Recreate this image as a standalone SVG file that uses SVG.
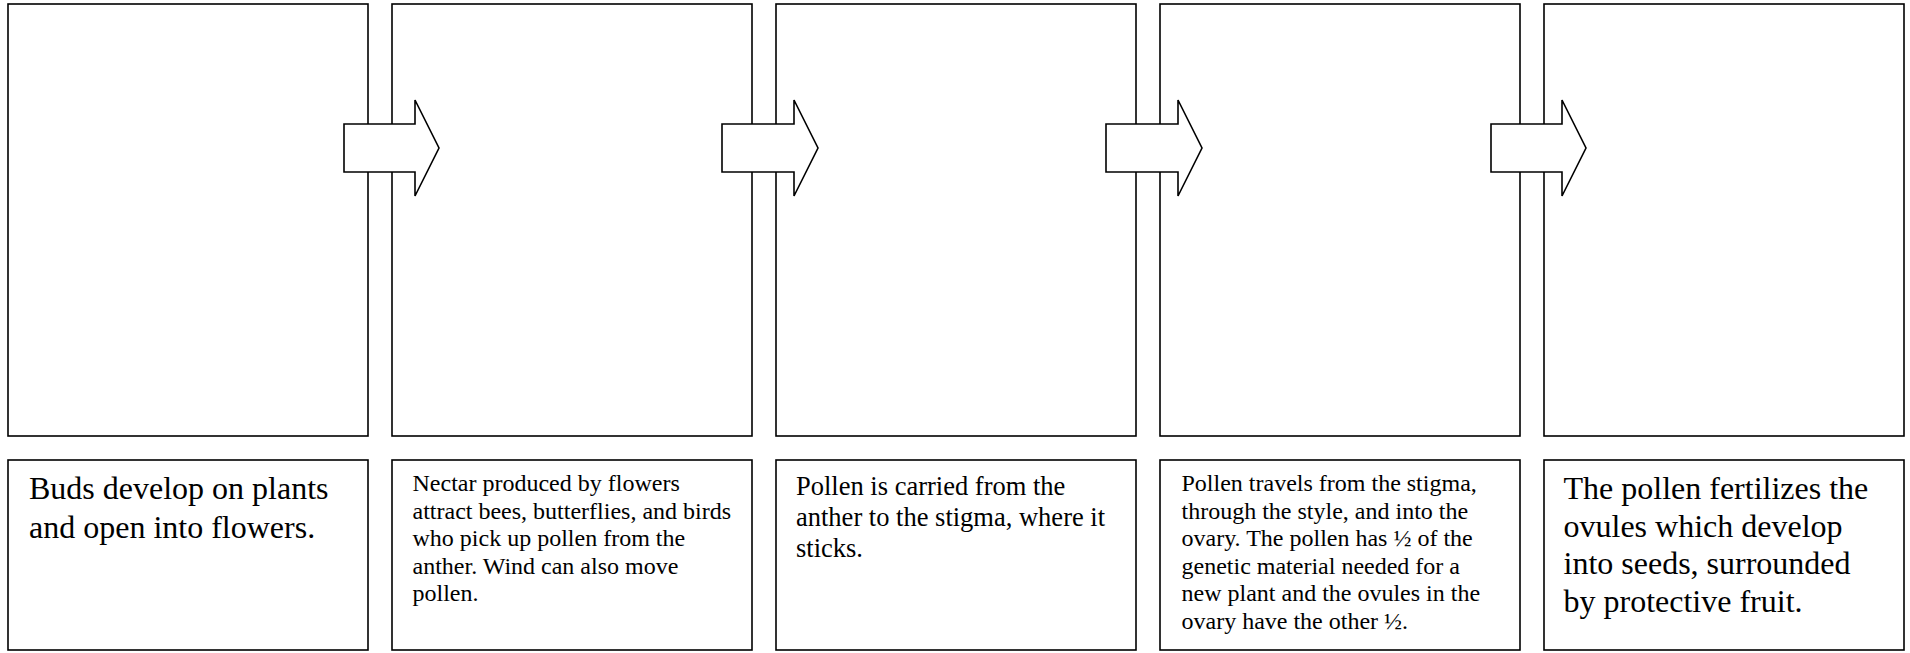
<svg xmlns="http://www.w3.org/2000/svg" width="1910" height="653" viewBox="0 0 1910 653">
<style>
.box{fill:#fff;stroke:#000;stroke-width:1.6}
.arr{fill:#fff;stroke:#000;stroke-width:1.6;stroke-linejoin:miter}
text{font-family:"Liberation Serif","Times New Roman",serif;fill:#000}
.t32{font-size:32px}
.t26{font-size:26.5px}
.t24{font-size:24px}
</style>
<rect width="1910" height="653" fill="#fff"/>
<g id="step1">
<rect class="box" x="8" y="4" width="360" height="432"/>
<rect class="box" x="8" y="460" width="360" height="190"/>
<text class="t32"><tspan x="29" y="499">Buds develop on plants</tspan><tspan x="29" y="537.5">and open into flowers.</tspan></text>
</g>
<g id="step2">
<rect class="box" x="392" y="4" width="360" height="432"/>
<rect class="box" x="392" y="460" width="360" height="190"/>
<text class="t24"><tspan x="412.5" y="491">Nectar produced by flowers</tspan><tspan x="412.5" y="518.5">attract bees, butterflies, and birds</tspan><tspan x="412.5" y="546">who pick up pollen from the</tspan><tspan x="412.5" y="573.5">anther. Wind can also move</tspan><tspan x="412.5" y="601">pollen.</tspan></text>
</g>
<g id="step3">
<rect class="box" x="776" y="4" width="360" height="432"/>
<rect class="box" x="776" y="460" width="360" height="190"/>
<text class="t26"><tspan x="796" y="495">Pollen is carried from the</tspan><tspan x="796" y="526">anther to the stigma, where it</tspan><tspan x="796" y="557">sticks.</tspan></text>
</g>
<g id="step4">
<rect class="box" x="1160" y="4" width="360" height="432"/>
<rect class="box" x="1160" y="460" width="360" height="190"/>
<text class="t24"><tspan x="1181.5" y="491">Pollen travels from the stigma,</tspan><tspan x="1181.5" y="518.5">through the style, and into the</tspan><tspan x="1181.5" y="546">ovary. The pollen has ½ of the</tspan><tspan x="1181.5" y="573.5">genetic material needed for a</tspan><tspan x="1181.5" y="601">new plant and the ovules in the</tspan><tspan x="1181.5" y="628.5">ovary have the other ½.</tspan></text>
</g>
<g id="step5">
<rect class="box" x="1544" y="4" width="360" height="432"/>
<rect class="box" x="1544" y="460" width="360" height="190"/>
<text class="t32"><tspan x="1563.5" y="499">The pollen fertilizes the</tspan><tspan x="1563.5" y="536.5">ovules which develop</tspan><tspan x="1563.5" y="574">into seeds, surrounded</tspan><tspan x="1563.5" y="611.5">by protective fruit.</tspan></text>
</g>
<g id="connectors">
<polygon class="arr" points="344,124 415,124 415,100 439,148 415,196 415,172 344,172"/>
<polygon class="arr" points="722,124 794,124 794,100 818,148 794,196 794,172 722,172"/>
<polygon class="arr" points="1106,124 1178,124 1178,100 1202,148 1178,196 1178,172 1106,172"/>
<polygon class="arr" points="1491,124 1562,124 1562,100 1586,148 1562,196 1562,172 1491,172"/>
</g>
</svg>
